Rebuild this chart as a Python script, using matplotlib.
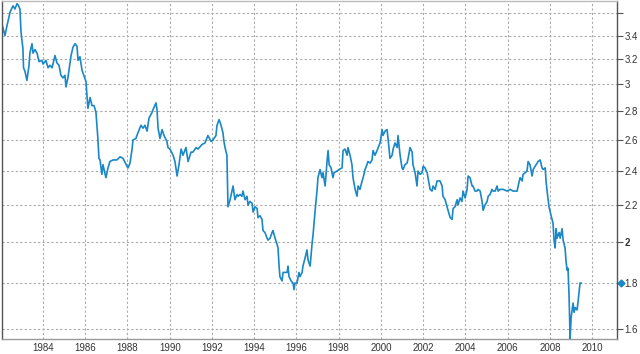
import matplotlib
matplotlib.use("Agg")
import matplotlib.pyplot as plt
from matplotlib.ticker import FixedLocator, FixedFormatter, NullLocator

# years (decimal) and values
years = [
    1982.06, 1982.20, 1982.30, 1982.44, 1982.58, 1982.67, 1982.77, 1982.82, 1982.91, 1982.96,
    1983.05, 1983.08, 1983.15, 1983.24, 1983.34, 1983.38, 1983.48, 1983.53, 1983.62, 1983.72,
    1983.81, 1983.95, 1984.00, 1984.14, 1984.24, 1984.33, 1984.43, 1984.57, 1984.66, 1984.76,
    1984.85, 1984.95, 1985.04, 1985.09, 1985.18, 1985.33, 1985.42, 1985.52, 1985.61, 1985.66,
    1985.75, 1985.85, 1985.89, 1986.04, 1986.08, 1986.13, 1986.23, 1986.32, 1986.42, 1986.51,
    1986.60, 1986.65, 1986.70, 1986.79, 1986.84, 1986.98, 1987.08, 1987.17, 1987.32, 1987.50,
    1987.65, 1987.79, 1987.98, 1988.03, 1988.12, 1988.22, 1988.26, 1988.40, 1988.50, 1988.64,
    1988.74, 1988.83, 1988.93, 1989.02, 1989.16, 1989.21, 1989.35, 1989.40, 1989.45, 1989.54,
    1989.64, 1989.73, 1989.87, 1989.92, 1990.01, 1990.16, 1990.25, 1990.35, 1990.44, 1990.54,
    1990.63, 1990.77, 1990.87, 1991.01, 1991.10, 1991.25, 1991.34, 1991.53, 1991.67, 1991.81,
    1991.96, 1992.05, 1992.19, 1992.24, 1992.34, 1992.43, 1992.52, 1992.57, 1992.62, 1992.71,
    1992.73, 1992.76, 1992.86, 1992.95, 1993.00, 1993.09, 1993.19, 1993.24, 1993.33, 1993.42,
    1993.47, 1993.57, 1993.66, 1993.71, 1993.80, 1993.90, 1993.95, 1994.04, 1994.14, 1994.18,
    1994.28, 1994.37, 1994.42, 1994.51, 1994.61, 1994.66, 1994.75, 1994.85, 1994.89, 1994.99,
    1995.08, 1995.13, 1995.18, 1995.22, 1995.32, 1995.37, 1995.46, 1995.56, 1995.60, 1995.65,
    1995.75, 1995.84, 1995.89, 1995.93, 1996.03, 1996.12, 1996.17, 1996.27, 1996.31, 1996.41,
    1996.50, 1996.55, 1996.65, 1996.74, 1996.79, 1996.88, 1996.98, 1997.02, 1997.12, 1997.21,
    1997.26, 1997.36, 1997.45, 1997.50, 1997.55, 1997.64, 1997.73, 1997.78, 1997.92, 1998.02,
    1998.16, 1998.21, 1998.30, 1998.40, 1998.44, 1998.54, 1998.63, 1998.68, 1998.78, 1998.87,
    1998.92, 1999.01, 1999.11, 1999.16, 1999.25, 1999.34, 1999.39, 1999.49, 1999.58, 1999.63,
    1999.72, 1999.82, 1999.87, 1999.96, 2000.06, 2000.10, 2000.20, 2000.29, 2000.34, 2000.43,
    2000.53, 2000.58, 2000.67, 2000.77, 2000.81, 2000.91, 2001.00, 2001.05, 2001.14, 2001.24,
    2001.29, 2001.38, 2001.48, 2001.52, 2001.62, 2001.71, 2001.76, 2001.86, 2001.95, 2002.00,
    2002.09, 2002.19, 2002.23, 2002.33, 2002.42, 2002.47, 2002.57, 2002.66, 2002.71, 2002.80,
    2002.90, 2002.94, 2003.04, 2003.13, 2003.18, 2003.28, 2003.37, 2003.42, 2003.51, 2003.61,
    2003.65, 2003.75, 2003.84, 2003.89, 2003.99, 2004.08, 2004.13, 2004.22, 2004.32, 2004.36,
    2004.46, 2004.55, 2004.60, 2004.70, 2004.79, 2004.84, 2004.93, 2005.03, 2005.08, 2005.17,
    2005.26, 2005.31, 2005.41, 2005.50, 2005.55, 2005.64, 2005.79, 2005.98, 2006.12, 2006.26,
    2006.45, 2006.50, 2006.59, 2006.69, 2006.73, 2006.83, 2006.92, 2006.97, 2007.06, 2007.16,
    2007.21, 2007.30, 2007.40, 2007.44, 2007.54, 2007.63, 2007.68, 2007.78, 2007.82, 2007.87,
    2007.96, 2008.06, 2008.15, 2008.20, 2008.25, 2008.30, 2008.34, 2008.44, 2008.49, 2008.58,
    2008.63, 2008.72, 2008.77, 2008.82, 2008.86, 2008.91, 2008.96, 2009.01, 2009.10, 2009.15,
    2009.20, 2009.29, 2009.34, 2009.43, 2009.48,
]
values = [
    3.50, 3.40, 3.49, 3.61, 3.67, 3.64, 3.69, 3.68, 3.64, 3.43,
    3.29, 3.13, 3.10, 3.03, 3.15, 3.25, 3.33, 3.25, 3.28, 3.25,
    3.18, 3.19, 3.16, 3.19, 3.13, 3.15, 3.13, 3.23, 3.17, 3.15,
    3.07, 3.05, 3.07, 2.98, 3.05, 3.23, 3.30, 3.33, 3.31, 3.19,
    3.22, 3.11, 3.09, 3.02, 2.92, 2.82, 2.90, 2.84, 2.84, 2.79,
    2.61, 2.48, 2.47, 2.38, 2.44, 2.36, 2.42, 2.46, 2.47, 2.47,
    2.49, 2.48, 2.43, 2.42, 2.45, 2.54, 2.60, 2.61, 2.65, 2.70,
    2.68, 2.70, 2.66, 2.75, 2.79, 2.81, 2.86, 2.81, 2.68, 2.61,
    2.67, 2.63, 2.59, 2.55, 2.54, 2.50, 2.46, 2.37, 2.44, 2.54,
    2.50, 2.55, 2.46, 2.52, 2.52, 2.55, 2.54, 2.57, 2.58, 2.63,
    2.59, 2.60, 2.63, 2.70, 2.74, 2.70, 2.65, 2.59, 2.55, 2.50,
    2.36, 2.19, 2.23, 2.28, 2.31, 2.23, 2.26, 2.25, 2.26, 2.25,
    2.28, 2.23, 2.25, 2.20, 2.22, 2.21, 2.16, 2.19, 2.18, 2.13,
    2.14, 2.12, 2.06, 2.05, 2.02, 2.01, 2.02, 2.05, 2.06, 2.02,
    1.99, 1.97, 1.88, 1.83, 1.81, 1.85, 1.85, 1.85, 1.88, 1.83,
    1.81, 1.80, 1.77, 1.80, 1.80, 1.85, 1.83, 1.85, 1.88, 1.92,
    1.96, 1.91, 1.88, 1.99, 2.04, 2.16, 2.29, 2.36, 2.41, 2.36,
    2.39, 2.31, 2.46, 2.53, 2.44, 2.42, 2.36, 2.39, 2.40, 2.41,
    2.42, 2.53, 2.54, 2.50, 2.55, 2.50, 2.44, 2.36, 2.29, 2.25,
    2.31, 2.29, 2.34, 2.36, 2.41, 2.44, 2.46, 2.45, 2.47, 2.53,
    2.50, 2.53, 2.55, 2.58, 2.67, 2.63, 2.66, 2.67, 2.61, 2.48,
    2.50, 2.54, 2.58, 2.55, 2.63, 2.50, 2.42, 2.41, 2.44, 2.45,
    2.48, 2.55, 2.52, 2.44, 2.39, 2.31, 2.40, 2.38, 2.39, 2.43,
    2.42, 2.39, 2.36, 2.29, 2.28, 2.31, 2.29, 2.34, 2.34, 2.34,
    2.31, 2.25, 2.23, 2.19, 2.17, 2.13, 2.12, 2.18, 2.19, 2.23,
    2.20, 2.24, 2.22, 2.28, 2.24, 2.29, 2.37, 2.36, 2.31, 2.31,
    2.28, 2.28, 2.29, 2.28, 2.22, 2.17, 2.20, 2.22, 2.25, 2.26,
    2.29, 2.28, 2.28, 2.31, 2.28, 2.29, 2.29, 2.28, 2.29, 2.28,
    2.28, 2.31, 2.36, 2.34, 2.38, 2.39, 2.40, 2.46, 2.44, 2.37,
    2.41, 2.43, 2.45, 2.46, 2.47, 2.42, 2.41, 2.42, 2.34, 2.28,
    2.19, 2.14, 2.10, 2.01, 1.97, 2.07, 2.02, 2.05, 2.02, 2.07,
    2.01, 1.97, 1.90, 1.86, 1.87, 1.74, 1.56, 1.65, 1.71, 1.67,
    1.69, 1.68, 1.72, 1.80, 1.80,
]

x_ticks = list(range(1984, 2011, 2))
y_ticks = [1.6, 1.8, 2.0, 2.2, 2.4, 2.6, 2.8, 3.0, 3.2, 3.4, 3.6]
y_labels = ["1.6", "1.8", "2", "2.2", "2.4", "2.6", "2.8", "3", "3.2", "3.4", ""]

line_color = "#1a87c6"
grid_color = "#aaaaaa"

plt.rcParams["font.family"] = ["Liberation Sans", "DejaVu Sans"]

fig = plt.figure(figsize=(6.4, 3.54), dpi=100)
ax = fig.add_axes([2 / 640, 15 / 354, 615 / 640, 338 / 354])

ax.plot(years, values, color=line_color, lw=1.2, solid_joinstyle="round")
ax.plot([1.006], [values[-1]], marker="D", ms=3.5, color=line_color,
        transform=ax.get_yaxis_transform(), clip_on=False)

ax.set_yscale("log")
ax.set_xlim(1982.06, 2011.18)
ax.set_ylim(1.559, 3.716)

ax.yaxis.set_major_locator(FixedLocator(y_ticks))
ax.yaxis.set_major_formatter(FixedFormatter(y_labels))
ax.yaxis.set_minor_locator(NullLocator())
ax.yaxis.tick_right()
ax.set_xticks(x_ticks)
ax.set_xticklabels([str(t) for t in x_ticks])

ax.tick_params(axis="y", which="major", direction="out", length=4, width=0.8,
               color="#555555", labelsize=7, labelcolor="#333333", pad=1.5)
ax.tick_params(axis="x", length=0, labelsize=7, labelcolor="#333333", pad=3)
for lbl in ax.get_yticklabels():
    if lbl.get_text() == "2":
        lbl.set_fontweight("bold")

ax.grid(True, color=grid_color, ls=(0, (2, 2)), lw=0.8)
ax.set_axisbelow(True)

ax.spines["top"].set_color("#bbbbbb")
ax.spines["bottom"].set_color("#999999")
ax.spines["left"].set_color("#555555")
ax.spines["right"].set_color("#555555")
for s in ax.spines.values():
    s.set_linewidth(1.0)

fig.savefig("out.png", dpi=100)
